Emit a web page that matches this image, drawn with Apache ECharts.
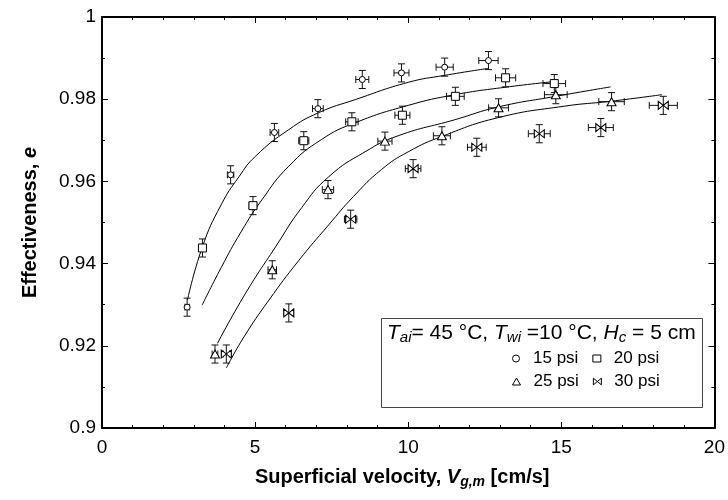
<!DOCTYPE html>
<html><head><meta charset="utf-8">
<script src="https://cdn.jsdelivr.net/npm/echarts@6/dist/echarts.min.js"></script>
<style>html,body{margin:0;padding:0;background:#fff}#c{width:728px;height:500px}</style>
</head><body><div id="c"></div>
<script>
// ---- data ----
const seriesNames = ['15 psi', '20 psi', '25 psi', '30 psi'];

const psi15X = [2.78, 4.20, 5.63, 7.05, 8.50, 9.78, 11.19, 12.62];
const psi15Y = [0.9294, 0.9616, 0.9719, 0.9777, 0.9848, 0.9864, 0.9878, 0.9894];
const psi20X = [3.28, 4.93, 6.59, 8.16, 9.81, 11.54, 13.18, 14.77];
const psi20Y = [0.9438, 0.9541, 0.9699, 0.9745, 0.9761, 0.9807, 0.9852, 0.9838];
const psi25X = [3.69, 5.56, 7.38, 9.24, 11.10, 12.95, 14.82, 16.64];
const psi25Y = [0.9180, 0.9385, 0.9580, 0.9698, 0.9711, 0.9779, 0.9811, 0.9794];
const psi30X = [4.06, 6.10, 8.12, 10.16, 12.24, 14.28, 16.29, 18.33];
const psi30Y = [0.9180, 0.9280, 0.9508, 0.9631, 0.9683, 0.9716, 0.9731, 0.9785];

// fitted curves
const fit15X = [2.79, 3.28, 3.89, 4.47, 5.01, 6.10, 7.07, 8.27, 10.0, 11.19, 12.62];
const fit15Y = [0.9311, 0.9441, 0.9543, 0.9611, 0.9661, 0.9726, 0.9767, 0.9799, 0.9841, 0.9858, 0.9875];
const fit20X = [3.27, 3.89, 4.54, 5.22, 6.10, 7.17, 8.28, 10.0, 11.53, 13.16, 14.78];
const fit20Y = [0.9299, 0.9390, 0.9477, 0.9555, 0.9637, 0.9702, 0.9743, 0.9785, 0.9811, 0.9829, 0.9843];
const fit25X = [3.77, 4.69, 5.67, 6.52, 7.40, 8.59, 9.67, 11.52, 12.93, 14.82, 16.61];
const fit25Y = [0.9206, 0.9328, 0.9441, 0.9536, 0.9611, 0.9672, 0.9711, 0.9750, 0.9781, 0.9807, 0.9830];
const fit30X = [4.06, 4.63, 5.45, 6.42, 7.40, 8.21, 9.13, 10.0, 11.12, 12.93, 15.10, 16.61, 18.29];
const fit30Y = [0.9146, 0.9221, 0.9311, 0.9407, 0.9494, 0.9563, 0.9629, 0.9672, 0.9710, 0.9755, 0.9783, 0.9795, 0.9811];

// error bar half-sizes
const xErrFrac = 0.025;   // relative horizontal uncertainty
const yErrHalf = 0.0022;  // absolute vertical uncertainty

const xTicks = [0, 5, 10, 15, 20];
const yTicks = [0.9, 0.92, 0.94, 0.96, 0.98, 1];

// ---- build ----
const FONT = 'Liberation Sans, Arial, sans-serif';
const BOWTIE = 'path://M0,0L6,5L0,10ZM12,0L6,5L12,10Z';
const groups = [
  {name: seriesNames[0], xs: psi15X, ys: psi15Y, fx: fit15X, fy: fit15Y, symbol: 'circle', size: 6},
  {name: seriesNames[1], xs: psi20X, ys: psi20Y, fx: fit20X, fy: fit20Y, symbol: 'rect', size: 8},
  {name: seriesNames[2], xs: psi25X, ys: psi25Y, fx: fit25X, fy: fit25Y, symbol: 'triangle', size: [9, 8]},
  {name: seriesNames[3], xs: psi30X, ys: psi30Y, fx: fit30X, fy: fit30Y, symbol: BOWTIE, size: [10, 8]}
];

function zip(a, b) { return a.map((v, i) => [v, b[i]]); }

function errRender(params, api) {
  const x = api.value(0), y = api.value(1), ex = api.value(2), ey = api.value(3);
  const l = api.coord([x - ex, y]), r = api.coord([x + ex, y]);
  const b = api.coord([x, y - ey]), t = api.coord([x, y + ey]);
  const c = 3.5;
  const st = {stroke: '#111', lineWidth: 1};
  const ln = (x1, y1, x2, y2) => ({type: 'line', shape: {x1, y1, x2, y2}, style: st});
  return {type: 'group', children: [
    ln(l[0], l[1], r[0], r[1]),
    ln(l[0], l[1] - c, l[0], l[1] + c),
    ln(r[0], r[1] - c, r[0], r[1] + c),
    ln(b[0], b[1], t[0], t[1]),
    ln(b[0] - c, b[1], b[0] + c, b[1]),
    ln(t[0] - c, t[1], t[0] + c, t[1])
  ]};
}

const markerStyle = {color: '#fff', borderColor: '#000', borderWidth: 1, opacity: 1};
const series = [];
groups.forEach(g => {
  series.push({
    type: 'line', name: g.name + ' fit', data: zip(g.fx, g.fy),
    showSymbol: false, smooth: 0.5,
    lineStyle: {color: '#000', width: 1}, silent: true, z: 1
  });
  series.push({
    type: 'custom', name: g.name + ' err', renderItem: errRender,
    data: g.xs.map((x, i) => [x, g.ys[i], x * xErrFrac, yErrHalf]),
    encode: {x: 0, y: 1}, silent: true, z: 2
  });
  series.push({
    type: 'scatter', name: g.name, data: zip(g.xs, g.ys),
    symbol: g.symbol, symbolSize: g.size,
    itemStyle: markerStyle,
    z: 3
  });
});

const axisCommon = {
  axisLine: {show: true, onZero: false, lineStyle: {color: '#000', width: 2}},
  axisTick: {show: true, inside: true, length: 6, lineStyle: {color: '#000', width: 1}},
  splitLine: {show: false},
  minorSplitLine: {show: false}
};
const xMinor = {show: true, splitNumber: 5, length: 3, lineStyle: {color: '#000', width: 1}};
const yMinor = {show: true, splitNumber: 2, length: 3, lineStyle: {color: '#000', width: 1}};

const subRich = {
  b: {fontFamily: FONT, fontWeight: 'bold', fontSize: 20, color: '#000', lineHeight: 23},
  bi: {fontFamily: FONT, fontWeight: 'bold', fontStyle: 'italic', fontSize: 20, color: '#000', lineHeight: 23},
  sub: {fontFamily: FONT, fontWeight: 'bold', fontStyle: 'italic', fontSize: 14, color: '#000', lineHeight: 12, verticalAlign: 'bottom'}
};

const legendBase = {
  orient: 'horizontal', left: 507, itemWidth: 8, itemHeight: 7, itemGap: 14,
  selectedMode: false, z: 20,
  itemStyle: {color: '#fff', borderColor: '#000', borderWidth: 1},
  textStyle: {fontFamily: FONT, fontSize: 17, color: '#000', padding: [0, 0, 0, 8]}
};
const legendItem = g => ({name: g.name, icon: g.symbol,
  itemStyle: {color: '#fff', borderColor: '#000', borderWidth: 1}});

const option = {
  animation: false,
  backgroundColor: '#fff',
  textStyle: {fontFamily: FONT},
  grid: {left: 102, top: 17, width: 616, height: 411, containLabel: false},
  xAxis: [
    Object.assign({
      type: 'value', min: xTicks[0], max: xTicks[xTicks.length - 1], interval: 5, position: 'bottom',
      axisLabel: {fontSize: 19, color: '#000', margin: 10, fontFamily: FONT},
      name: '{b|Superficial velocity, }{bi|V}{sub|g,m}{b| [cm/s]}',
      nameLocation: 'middle', nameGap: 38,
      nameTextStyle: {rich: subRich, padding: [0, 12, 0, 0]}
    }, axisCommon, {minorTick: xMinor}),
    Object.assign({
      type: 'value', min: xTicks[0], max: xTicks[xTicks.length - 1], interval: 5, position: 'top',
      axisLabel: {show: false}
    }, axisCommon, {minorTick: xMinor})
  ],
  yAxis: [
    Object.assign({
      type: 'value', min: yTicks[0], max: yTicks[yTicks.length - 1], interval: 0.02, position: 'left',
      axisLabel: {fontSize: 19, color: '#000', margin: 6, fontFamily: FONT,
        formatter: v => String(parseFloat(v.toFixed(2)))},
      name: '{b|Effectiveness, }{bi|e}', nameLocation: 'middle', nameGap: 60, nameRotate: 90,
      nameTextStyle: {rich: subRich}
    }, axisCommon, {minorTick: yMinor}),
    Object.assign({
      type: 'value', min: yTicks[0], max: yTicks[yTicks.length - 1], interval: 0.02, position: 'right',
      axisLabel: {show: false}
    }, axisCommon, {minorTick: yMinor})
  ],
  legend: [
    Object.assign({}, legendBase, {top: 345, data: [legendItem(groups[0]), legendItem(groups[1])]}),
    Object.assign({}, legendBase, {top: 368, data: [legendItem(groups[2]), legendItem(groups[3])]})
  ],
  graphic: [
    {type: 'rect', shape: {x: 381.5, y: 318.5, width: 321, height: 89}, style: {fill: '#fff', stroke: '#444', lineWidth: 1}, z: 5},
    {type: 'text', x: 387, y: 321, z: 11, style: {
      text: '{i|T}{s|ai}{n|= 45 °C, }{i|T}{s|wi}{n| =10 °C, }{i|H}{s|c}{n| = 5 cm}',
      verticalAlign: 'top',
      rich: {
        n: {fontFamily: FONT, fontSize: 21, color: '#000', lineHeight: 24},
        i: {fontFamily: FONT, fontSize: 21, fontStyle: 'italic', color: '#000', lineHeight: 24},
        s: {fontFamily: FONT, fontSize: 15, fontStyle: 'italic', color: '#000', lineHeight: 13, verticalAlign: 'bottom'}
      }
    }}
  ],
  series: series
};

const chart = echarts.init(document.getElementById('c'), null, {renderer: 'canvas'});
chart.setOption(option);
</script>
</body></html>
